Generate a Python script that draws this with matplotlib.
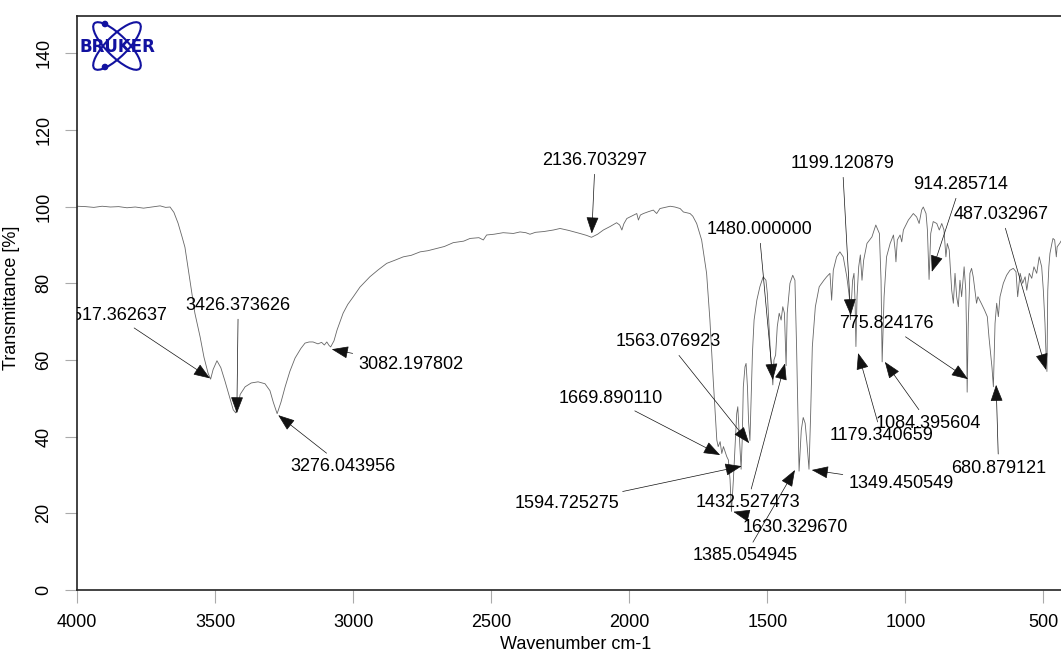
import matplotlib
matplotlib.use("Agg")
import matplotlib.pyplot as plt
from matplotlib.patches import Ellipse, Circle
from matplotlib.transforms import IdentityTransform

plt.rcParams['font.family'] = ['Liberation Sans', 'DejaVu Sans']

# ---- spectrum data (wavenumber cm-1, transmittance %) ----
wavenumber = [
    4000, 3970, 3940, 3910, 3880, 3850, 3820, 3790, 3760, 3730, 3700, 3680, 3664,
    3650, 3635, 3620, 3610, 3592, 3574, 3555, 3541, 3526, 3517, 3508, 3494, 3480,
    3465, 3447, 3435, 3426, 3418, 3410, 3392, 3370, 3345, 3320, 3302, 3290, 3276,
    3262, 3247, 3230, 3211, 3190, 3175, 3160, 3146, 3128, 3115, 3105, 3096, 3088,
    3082, 3070, 3059, 3037, 3020, 3000, 2976, 2940, 2910, 2879, 2850, 2819, 2790,
    2758, 2730, 2698, 2670, 2638, 2600, 2577, 2545, 2529, 2517, 2490, 2457, 2420,
    2396, 2375, 2360, 2340, 2310, 2275, 2251, 2220, 2179, 2155, 2137, 2115, 2094,
    2070, 2046, 2035, 2027, 2020, 2009, 1990, 1973, 1967, 1960, 1949, 1930, 1913,
    1901, 1889, 1870, 1852, 1835, 1816, 1804, 1780, 1770, 1756, 1738, 1720, 1708,
    1696, 1683, 1678, 1671, 1665, 1659, 1647, 1641, 1635, 1630, 1623, 1617, 1611,
    1607, 1602, 1595, 1591, 1587, 1581, 1577, 1572, 1568, 1563, 1558, 1554, 1548,
    1538, 1527, 1515, 1505, 1500, 1493, 1488, 1480, 1476, 1470, 1464, 1457, 1450,
    1444, 1438, 1432, 1428, 1418, 1408, 1400, 1394, 1389, 1385, 1377, 1370, 1363,
    1356, 1349, 1343, 1337, 1326, 1312, 1295, 1285, 1273, 1267, 1261, 1249, 1237,
    1225, 1212, 1203, 1199, 1191, 1186, 1182, 1179, 1175, 1169, 1163, 1157, 1151,
    1139, 1121, 1107, 1094, 1088, 1084, 1077, 1068, 1055, 1043, 1037, 1034, 1029,
    1019, 1013, 1007, 989, 971, 959, 950, 941, 935, 925, 920, 914, 908, 899, 886,
    877, 868, 860, 853, 848, 841, 832, 826, 820, 814, 808, 802, 796, 787, 781, 778,
    776, 772, 766, 760, 754, 748, 742, 737, 725, 713, 703, 697, 686, 681, 675, 669,
    663, 657, 645, 633, 621, 609, 599, 593, 584, 575, 566, 560, 551, 542, 534, 524,
    515, 506, 500, 494, 491, 487, 484, 480, 476, 469, 465, 459, 453, 450, 440, 436,
]
transmittance = [
    100.1, 100.0, 99.8, 100.1, 99.9, 100.0, 99.7, 99.9, 99.6, 99.9, 100.2, 99.8, 99.9,
    98.5, 95.7, 92.0, 89.4, 80.8, 72.2, 66.0, 60.7, 56.5, 55.0, 57.5, 59.8, 58.0,
    54.5, 50.0, 47.0, 46.2, 48.0, 51.0, 53.0, 54.0, 54.3, 53.8, 52.0, 49.0, 46.0,
    49.0, 53.0, 57.0, 60.5, 63.0, 64.4, 64.7, 64.7, 64.2, 64.6, 63.9, 64.7, 63.8,
    63.4, 65.0, 67.8, 72.2, 74.5, 76.5, 79.0, 81.7, 83.5, 85.2, 86.0, 86.9, 87.3,
    88.2, 88.5, 89.1, 89.6, 90.6, 91.0, 91.7, 91.9, 91.3, 92.6, 92.8, 93.2, 93.0,
    93.4, 93.2, 92.8, 93.3, 93.5, 93.9, 94.3, 93.8, 93.0, 92.5, 92.0, 92.8, 93.9,
    94.8, 95.8, 95.2, 93.9, 95.5, 96.9, 97.6, 98.2, 96.5, 97.8, 98.2, 98.7, 99.1,
    98.2, 99.5, 99.8, 100.1, 99.9, 99.5, 98.6, 98.2, 97.5, 95.6, 91.3, 82.6, 70.4,
    54.8, 39.1, 37.4, 38.7, 35.6, 37.4, 34.8, 33.9, 28.7, 20.5, 28.7, 37.4, 46.0,
    47.8, 40.9, 31.5, 39.1, 53.0, 58.2, 59.1, 53.0, 44.0, 39.0, 51.3, 61.7, 70.4,
    75.6, 79.1, 81.7, 80.8, 77.4, 67.8, 60.8, 53.5, 60.0, 61.3, 68.7, 72.2, 70.4,
    73.9, 72.2, 58.5, 72.2, 80.0, 82.1, 80.8, 63.4, 46.0, 31.0, 41.7, 45.0, 43.5,
    38.0, 31.5, 46.0, 63.4, 73.9, 79.1, 80.8, 81.7, 82.6, 75.6, 83.4, 86.9, 88.2,
    86.9, 81.7, 76.5, 70.5, 80.8, 82.6, 75.0, 63.5, 76.5, 84.3, 87.4, 80.8, 86.0,
    90.4, 92.1, 95.2, 93.0, 80.8, 59.5, 76.5, 86.9, 90.4, 92.6, 88.7, 85.6, 91.3,
    92.6, 90.8, 93.9, 96.5, 98.2, 97.3, 95.6, 99.1, 99.9, 98.2, 93.9, 81.0, 93.0, 96.1, 95.6,
    93.9, 95.6, 93.9, 86.9, 90.4, 88.7, 78.2, 74.8, 82.6, 76.5, 73.9, 80.8, 76.5, 84.3, 78.2, 66.0,
    51.6, 69.5, 82.6, 83.9, 81.7, 78.2, 74.8, 76.5, 74.8, 73.0, 71.3, 66.0, 58.0, 53.0, 69.5, 74.8,
    71.3, 76.5, 80.0, 82.1, 83.4, 83.9, 83.0, 76.5, 82.6, 80.0, 81.7, 78.2, 82.6, 81.3, 84.3, 82.6,
    86.9, 84.3, 78.2, 69.5, 63.0, 57.0, 78.0, 84.3, 87.8, 90.4, 91.7, 91.3, 86.9, 89.5, 90.5, 91.0,
]

# ---- peak labels ----
peak_labels = [
    "3517.362637", "3426.373626", "3276.043956", "3082.197802", "2136.703297",
    "1199.120879", "914.285714", "487.032967", "1480.000000", "1563.076923",
    "1669.890110", "1594.725275", "1432.527473", "1630.329670", "1385.054945",
    "1349.450549", "775.824176", "1179.340659", "1084.395604", "680.879121",
]
# arrow tips (wavenumber, transmittance)
tip_wn = [3519, 3422, 3272, 3078, 2136, 1198, 904, 490, 1480, 1566,
          1671, 1593, 1436, 1623, 1400, 1339, 773, 1171, 1074, 671]
tip_t = [55.2, 46.1, 45.6, 62.8, 93.0, 71.7, 83.0, 57.4, 54.8, 38.3,
         35.2, 32.3, 59.1, 20.4, 31.3, 31.3, 55.0, 61.8, 59.5, 53.5]
# label centres (wavenumber, transmittance)
text_wn = [3864, 3417, 3037, 2792, 2124, 1228, 800, 652, 1530, 1859,
           2068, 2226, 1572, 1400, 1581, 1016, 1068, 1086, 916, 662]
text_t = [71.7, 74.3, 32.3, 58.7, 112.1, 111.3, 105.8, 98.0, 94.1, 64.7,
          50.0, 22.6, 22.7, 16.4, 8.9, 27.9, 69.4, 40.2, 43.5, 31.8]

x_ticks = [4000, 3500, 3000, 2500, 2000, 1500, 1000, 500]
y_ticks = [0, 20, 40, 60, 80, 100, 120, 140]

W, H = 1061, 657
fig = plt.figure(figsize=(W / 100, H / 100), dpi=100)
ax = fig.add_axes([77.3 / W, 67 / H, 1 - 77.3 / W, 574.3 / H])

ax.plot(wavenumber, transmittance, color='#666666', lw=0.6)
ax.set_xlim(4000, 436)
ax.set_ylim(0, 149.8)

for lab, tw, tt, xw, xt in zip(peak_labels, tip_wn, tip_t, text_wn, text_t):
    ax.annotate(lab, xy=(tw, tt), xytext=(xw, xt), ha='center', va='center',
                fontsize=13, color='black', clip_on=True, annotation_clip=False,
                arrowprops=dict(arrowstyle='-|>,head_length=0.75,head_width=0.28',
                                color='#111111', lw=0.5, shrinkA=2, shrinkB=0,
                                mutation_scale=14))

ax.set_xticks(x_ticks)
ax.set_yticks(y_ticks)
ax.set_xticklabels([str(v) for v in x_ticks])
ax.set_yticklabels([str(v) for v in y_ticks], rotation=90, va='center')
ax.tick_params(axis='both', direction='out', color='#aaaaaa', width=0.8,
               labelsize=13, labelcolor='black')
ax.tick_params(axis='x', length=9, pad=8)
ax.tick_params(axis='y', length=9, pad=9)

for s in ['left', 'bottom', 'top']:
    ax.spines[s].set_linewidth(1.2)
    ax.spines[s].set_color('#222222')
ax.spines['right'].set_visible(False)

ax.set_xlabel('Wavenumber cm-1', fontsize=13)
ax.set_ylabel('Transmittance [%]', fontsize=13)
ax.xaxis.set_label_coords(0.507, -0.080)
ax.yaxis.set_label_coords(-0.058, 0.509)

# ---- Bruker logo ----
logo_blue = '#1212a0'
cx, cy = 117, H - 46
for ang in (45, -45):
    fig.patches.append(Ellipse((cx, cy), 64, 21, angle=ang, fill=False,
                               edgecolor=logo_blue, lw=1.5,
                               transform=IdentityTransform(), figure=fig))
for (dx, dy) in [(105, H - 24), (105, H - 67)]:
    fig.patches.append(Circle((dx, dy), 2.6, color=logo_blue,
                              transform=IdentityTransform(), figure=fig))
fig.text(cx / W, (cy - 1) / H, 'BRUKER', fontsize=12, fontweight='bold',
         color=logo_blue, ha='center', va='center', family='DejaVu Sans')

fig.savefig('out.png', dpi=100)
